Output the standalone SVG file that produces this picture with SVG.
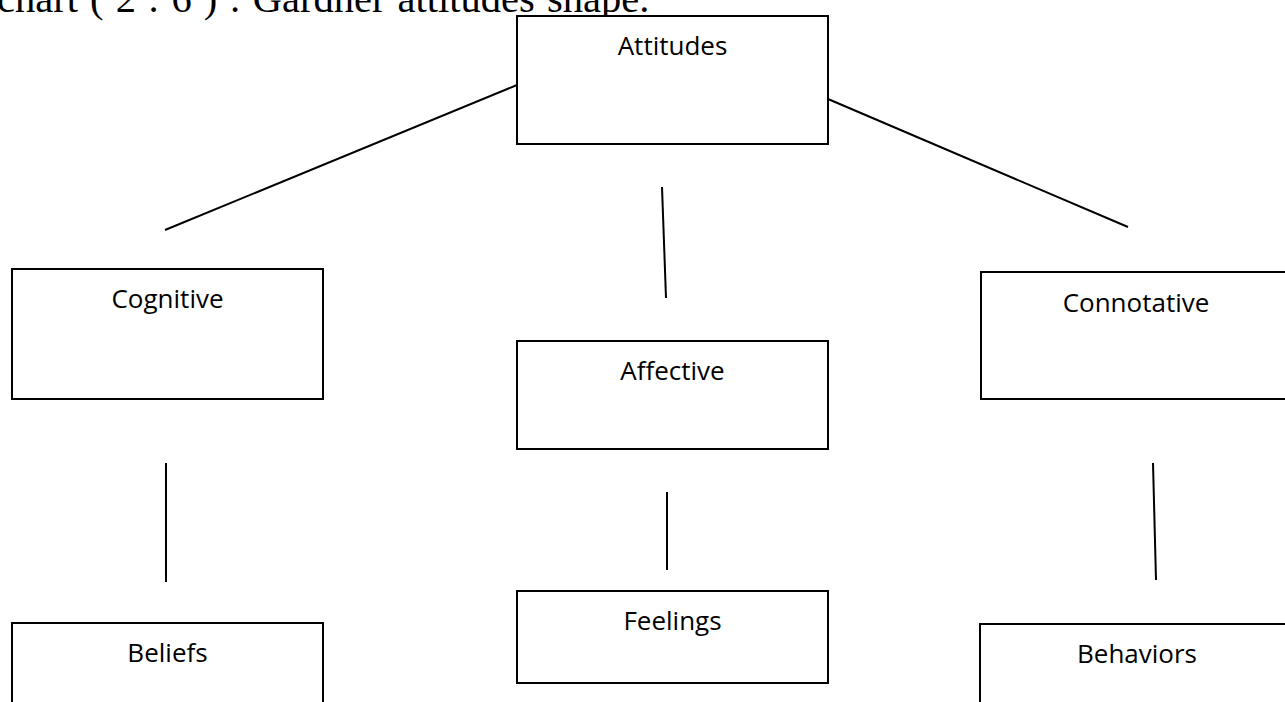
<svg xmlns="http://www.w3.org/2000/svg" width="1285" height="702" viewBox="0 0 1285 702">
<style>
.box{fill:#fff;stroke:#000;stroke-width:2}
.lbl{font-family:"Open Sans","Noto Sans",sans-serif;font-size:26px;fill:#000;text-anchor:middle}
.con line{stroke:#000;stroke-width:2}
.title{font-family:"Liberation Serif",serif;font-size:40.5px;fill:#000;word-spacing:2px}
</style>
<rect width="1285" height="702" fill="#fff"/>
<text class="title" x="-3" y="12">chart ( 2 : 6 ) : Gardner attitudes shape.</text>
<g class="con">
<line x1="165" y1="230" x2="517" y2="85"/>
<line x1="828" y1="99" x2="1128" y2="227"/>
<line x1="662" y1="187" x2="666" y2="298"/>
<line x1="166" y1="463" x2="166" y2="582"/>
<line x1="667" y1="492" x2="667" y2="570"/>
<line x1="1153" y1="463" x2="1156" y2="580"/>
</g>
<g id="attitudes"><rect class="box" x="517" y="16" width="311" height="128"/><text class="lbl" x="672.5" y="55">Attitudes</text></g>
<g id="cognitive"><rect class="box" x="12" y="269" width="311" height="130"/><text class="lbl" x="167.5" y="308">Cognitive</text></g>
<g id="affective"><rect class="box" x="517" y="341" width="311" height="108"/><text class="lbl" x="672.5" y="380">Affective</text></g>
<g id="connotative"><rect class="box" x="981" y="272" width="310" height="127"/><text class="lbl" x="1136" y="312">Connotative</text></g>
<g id="beliefs"><rect class="box" x="12" y="623" width="311" height="100"/><text class="lbl" x="167.5" y="662">Beliefs</text></g>
<g id="feelings"><rect class="box" x="517" y="591" width="311" height="92"/><text class="lbl" x="672.5" y="630">Feelings</text></g>
<g id="behaviors"><rect class="box" x="980" y="624" width="314" height="100"/><text class="lbl" x="1137" y="663">Behaviors</text></g>
</svg>
